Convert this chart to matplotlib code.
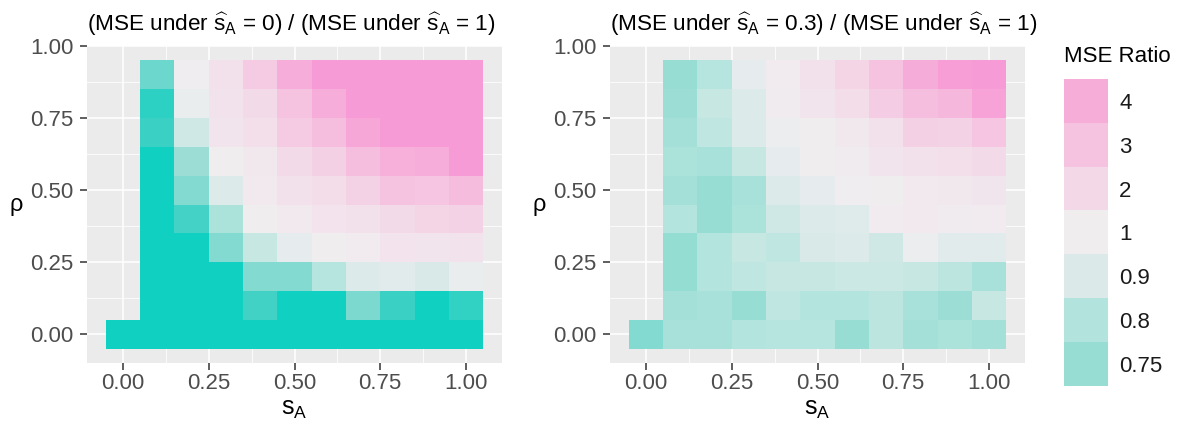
import numpy as np
import matplotlib
matplotlib.use("Agg")
import matplotlib.pyplot as plt
from matplotlib.colors import LinearSegmentedColormap, LogNorm

plt.rcParams['font.family'] = ['Liberation Sans', 'DejaVu Sans']
plt.rcParams['mathtext.fontset'] = 'custom'
plt.rcParams['mathtext.rm'] = 'Liberation Sans'
plt.rcParams['mathtext.it'] = 'Liberation Sans:italic'

nan = np.nan

# grid of the simulation
s_a = [0.0, 0.1, 0.2, 0.3, 0.4, 0.5, 0.6, 0.7, 0.8, 0.9, 1.0]
rho = [0.0, 0.1, 0.2, 0.3, 0.4, 0.5, 0.6, 0.7, 0.8, 0.9]

# MSE ratio, one row per rho (bottom to top), one column per s_A
ratio_shat0 = [
    [0.45, 0.45, 0.45, 0.45, 0.45, 0.45, 0.45, 0.45, 0.45, 0.45, 0.45],
    [nan, 0.45, 0.45, 0.45, 0.61, 0.45, 0.45, 0.71, 0.60, 0.45, 0.58],
    [nan, 0.45, 0.45, 0.45, 0.72, 0.72, 0.81, 0.90, 0.93, 0.89, 0.97],
    [nan, 0.45, 0.48, 0.72, 0.85, 0.95, 1.05, 1.15, 1.45, 1.40, 1.50],
    [nan, 0.45, 0.62, 0.79, 1.05, 1.20, 1.45, 1.60, 2.00, 2.20, 2.30],
    [nan, 0.45, 0.72, 0.90, 1.20, 1.60, 1.80, 2.30, 3.00, 2.90, 3.30],
    [nan, 0.45, 0.76, 1.05, 1.25, 2.00, 2.40, 3.20, 3.90, 4.00, 5.50],
    [nan, 0.60, 0.87, 1.40, 1.70, 2.60, 3.20, 4.30, 5.50, 5.50, 5.50],
    [nan, 0.57, 0.97, 1.50, 2.00, 3.00, 4.00, 5.50, 5.50, 5.50, 5.50],
    [nan, 0.68, 1.02, 1.60, 2.60, 4.00, 5.50, 5.50, 5.50, 5.50, 5.50],
]

ratio_shat03 = [
    [0.72, 0.78, 0.78, 0.80, 0.81, 0.81, 0.75, 0.82, 0.77, 0.79, 0.77],
    [nan, 0.77, 0.78, 0.75, 0.83, 0.80, 0.80, 0.82, 0.78, 0.76, 0.85],
    [nan, 0.745, 0.80, 0.83, 0.85, 0.85, 0.86, 0.86, 0.85, 0.82, 0.78],
    [nan, 0.745, 0.80, 0.85, 0.83, 0.89, 0.90, 0.87, 0.98, 0.93, 0.93],
    [nan, 0.80, 0.75, 0.79, 0.87, 0.90, 0.92, 1.15, 1.20, 1.10, 1.15],
    [nan, 0.77, 0.75, 0.78, 0.90, 0.95, 1.02, 1.05, 1.20, 1.25, 1.35],
    [nan, 0.79, 0.78, 0.85, 0.95, 1.05, 1.10, 1.40, 1.60, 1.70, 2.00],
    [nan, 0.77, 0.83, 0.90, 0.98, 1.05, 1.25, 1.60, 2.40, 2.30, 2.90],
    [nan, 0.76, 0.85, 0.90, 1.10, 1.40, 1.80, 2.50, 3.20, 3.50, 4.50],
    [nan, 0.75, 0.81, 0.95, 1.15, 1.60, 2.20, 3.00, 4.10, 4.80, 5.00],
]

legend_breaks = [4, 3, 2, 1, 0.9, 0.8, 0.75]
legend_labels = ['4', '3', '2', '1', '0.9', '0.8', '0.75']

# colour scale (log), anchored on ratio values
vmin, vmax = 0.5, 5.0
anchors = [(0.5, '#10D0C2'), (0.6, '#3AD1C4'), (0.7, '#78D9CF'), (0.75, '#98DDD4'),
           (0.8, '#B3E4DD'), (0.9, '#DCEAE9'), (1.0, '#F0EEF0'), (2.0, '#F3DAE8'),
           (3.0, '#F5C3E0'), (4.0, '#F6AED9'), (5.0, '#F79BD6')]
cmap = LinearSegmentedColormap.from_list(
    'mse', [(np.log(v / vmin) / np.log(vmax / vmin), c) for v, c in anchors])
norm = LogNorm(vmin=vmin, vmax=vmax, clip=True)

x_edges = np.append(np.array(s_a) - 0.05, s_a[-1] + 0.05)
y_edges = np.append(np.array(rho) - 0.05, rho[-1] + 0.05)

hat = r'$\widehat{\mathrm{s}}_\mathrm{A}$'
fig = plt.figure(figsize=(11.83, 4.30), dpi=100)
W, H = 1183, 430
panels = [(87, ratio_shat0, '(MSE under ' + hat + ' = 0) / (MSE under ' + hat + ' = 1)'),
          (610, ratio_shat03, '(MSE under ' + hat + ' = 0.3) / (MSE under ' + hat + ' = 1)')]

for left, data, title in panels:
    ax = fig.add_axes([left / W, (H - 363) / H, 415 / W, (363 - 46) / H])
    ax.set_facecolor('#EBEBEB')
    vals = np.ma.masked_invalid(np.array(data))
    ax.pcolormesh(x_edges, y_edges, vals, cmap=cmap, norm=norm, zorder=1)
    ax.set_xlim(-0.105, 1.105)
    ax.set_ylim(-0.1, 1.0)
    ticks = [0, 0.25, 0.5, 0.75, 1.0]
    minor = [0.125, 0.375, 0.625, 0.875]
    ax.set_xticks(ticks)
    ax.set_xticklabels(['%.2f' % t for t in ticks])
    ax.set_yticks(ticks)
    ax.set_yticklabels(['%.2f' % t for t in ticks])
    ax.set_xticks(minor, minor=True)
    ax.set_yticks(minor, minor=True)
    ax.set_axisbelow(True)
    ax.grid(True, which='major', color='white', linewidth=1.1)
    ax.grid(True, which='minor', color='white', linewidth=0.55)
    for sp in ax.spines.values():
        sp.set_visible(False)
    ax.tick_params(which='major', length=5, width=1.1, color='#333333',
                   labelcolor='#4D4D4D', labelsize=16)
    ax.tick_params(axis='y', pad=4.5)
    ax.tick_params(axis='x', pad=2.5)
    ax.tick_params(which='minor', length=0)
    ax.set_xlabel(r'$\mathrm{s}_\mathrm{A}$', fontsize=18, labelpad=2)
    ax.set_ylabel('ρ', fontsize=17, rotation=0, va='center', ha='center')
    ax.yaxis.set_label_coords(-0.17, 0.5)
    ax.set_title(title, loc='left', fontsize=16.2, pad=11)

# legend drawn as a column of keys
lax = fig.add_axes([1064 / W, (H - 386) / H, 44 / W, (386 - 79) / H])
keys = np.array(legend_breaks, dtype=float).reshape(-1, 1)
lax.imshow(keys, cmap=cmap, norm=norm, aspect='auto', interpolation='nearest')
lax.set_xticks([])
lax.set_yticks(range(len(legend_labels)))
lax.set_yticklabels(legend_labels)
lax.yaxis.tick_right()
lax.tick_params(axis='y', length=0, labelsize=16, pad=8, labelcolor='#1A1A1A')
for sp in lax.spines.values():
    sp.set_visible(False)
fig.text(1064 / W, (H - 56) / H, 'MSE Ratio', fontsize=16, ha='left', va='center')

fig.savefig('out.png', dpi=100)
